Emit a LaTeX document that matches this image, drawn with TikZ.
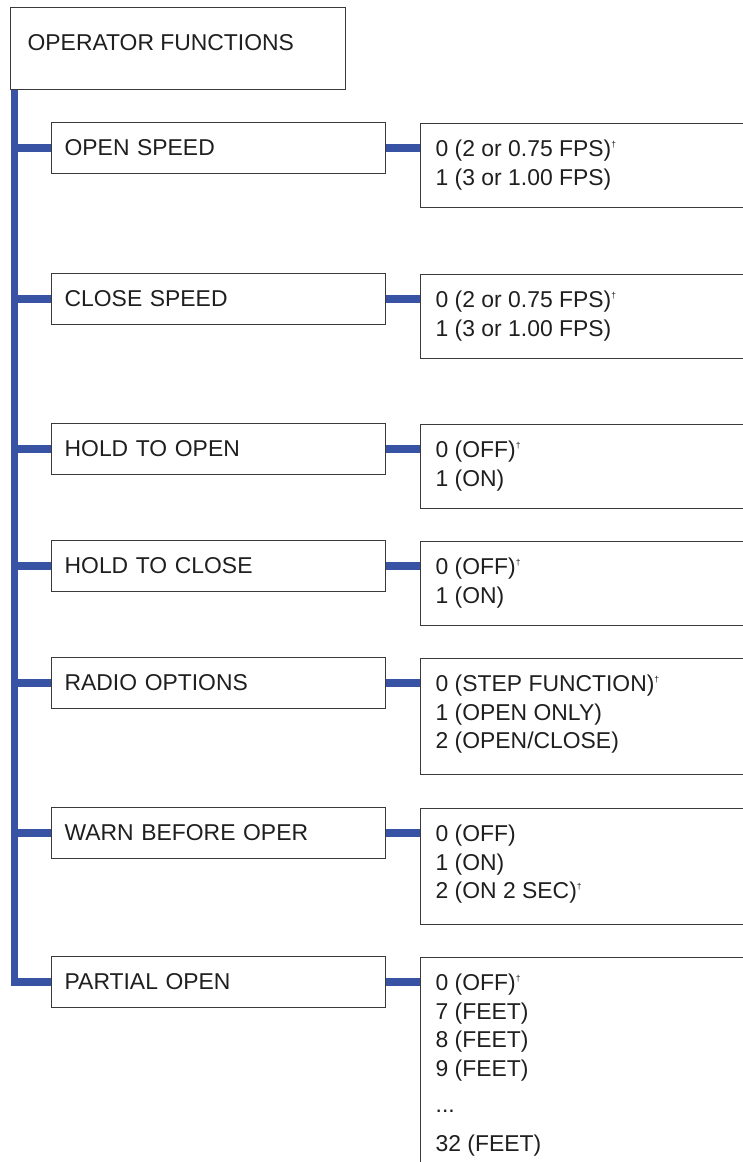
\documentclass[tikz,border=0pt]{standalone}
\usepackage{fontspec}
\setmainfont{Liberation Sans}
\definecolor{spineblue}{HTML}{3953A4}
\definecolor{edgegray}{HTML}{3A3A3A}
\newcommand{\dg}{\raisebox{9.5pt}{\fontsize{8.5}{8.5}\selectfont †}}
\newcommand{\boxtext}[4]{\begin{minipage}[c][#2][t]{#1}\rule{0pt}{#3}#4\end{minipage}}
\begin{document}
\begin{tikzpicture}[x=1pt,y=-1pt,
  every node/.style={font=\fontsize{22.9}{28.5}\selectfont, text=black!88},
  topbox/.style={draw=edgegray, line width=1.3pt, anchor=north west, inner xsep=17pt, inner ysep=0pt},
  branchbox/.style={draw=edgegray, line width=1.3pt, anchor=west, minimum height=51pt,
    inner xsep=13pt, inner ysep=0pt, text width=308pt, align=left},
  valbox/.style={draw=edgegray, line width=1.3pt, anchor=north west, inner xsep=15pt, inner ysep=0pt},
  spineline/.style={draw=spineblue, line width=7.5pt},
  barline/.style={draw=spineblue, line width=8.5pt}]
\useasboundingbox (0,0) rectangle (743,1162);
\clip (0,0) rectangle (743,1162);

% root
\node[topbox] (top) at (10,7) {\boxtext{301pt}{82pt}{43pt}{OPERATOR FUNCTIONS}};

% branch boxes
\node[branchbox] (b1) at (51,148) {OPEN SPEED};
\node[branchbox] (b2) at (51,299) {CLOSE SPEED};
\node[branchbox] (b3) at (51,449) {HOLD TO OPEN};
\node[branchbox] (b4) at (51,566) {HOLD TO CLOSE};
\node[branchbox] (b5) at (51,683) {RADIO OPTIONS};
\node[branchbox] (b6) at (51,833) {WARN BEFORE OPER};
\node[branchbox] (b7) at (51,982) {PARTIAL OPEN};

% value boxes
\node[valbox] (v1) at (420,123) {\boxtext{330pt}{84pt}{33pt}{0 (2 or 0.75 FPS)\dg\\1 (3 or 1.00 FPS)}};
\node[valbox] (v2) at (420,274) {\boxtext{330pt}{84pt}{33pt}{0 (2 or 0.75 FPS)\dg\\1 (3 or 1.00 FPS)}};
\node[valbox] (v3) at (420,424) {\boxtext{330pt}{84pt}{33pt}{0 (OFF)\dg\\1 (ON)}};
\node[valbox] (v4) at (420,541) {\boxtext{330pt}{84pt}{33pt}{0 (OFF)\dg\\1 (ON)}};
\node[valbox] (v5) at (420,658) {\boxtext{330pt}{116pt}{33pt}{0 (STEP FUNCTION)\dg\\1 (OPEN ONLY)\\2 (OPEN/CLOSE)}};
\node[valbox] (v6) at (420,808) {\boxtext{330pt}{116pt}{33pt}{0 (OFF)\\1 (ON)\\2 (ON 2 SEC)\dg}};
\node[valbox] (v7) at (420,957) {\boxtext{330pt}{230pt}{33pt}{0 (OFF)\dg\\7 (FEET)\\8 (FEET)\\9 (FEET)\\[8pt]...\\[10pt]32 (FEET)}};

% spine
\coordinate (sp) at ([xshift=4.5pt]top.south west);
\draw[spineline] (sp) -- ([yshift=-4.25pt]sp |- b7.west);
\foreach \i in {1,...,7}{
  \draw[barline] ([xshift=-3.75pt]sp |- b\i.west) -- (b\i.west);
  \draw[barline] (b\i.east) -- (b\i.east -| v\i.west);
}
\end{tikzpicture}
\end{document}
